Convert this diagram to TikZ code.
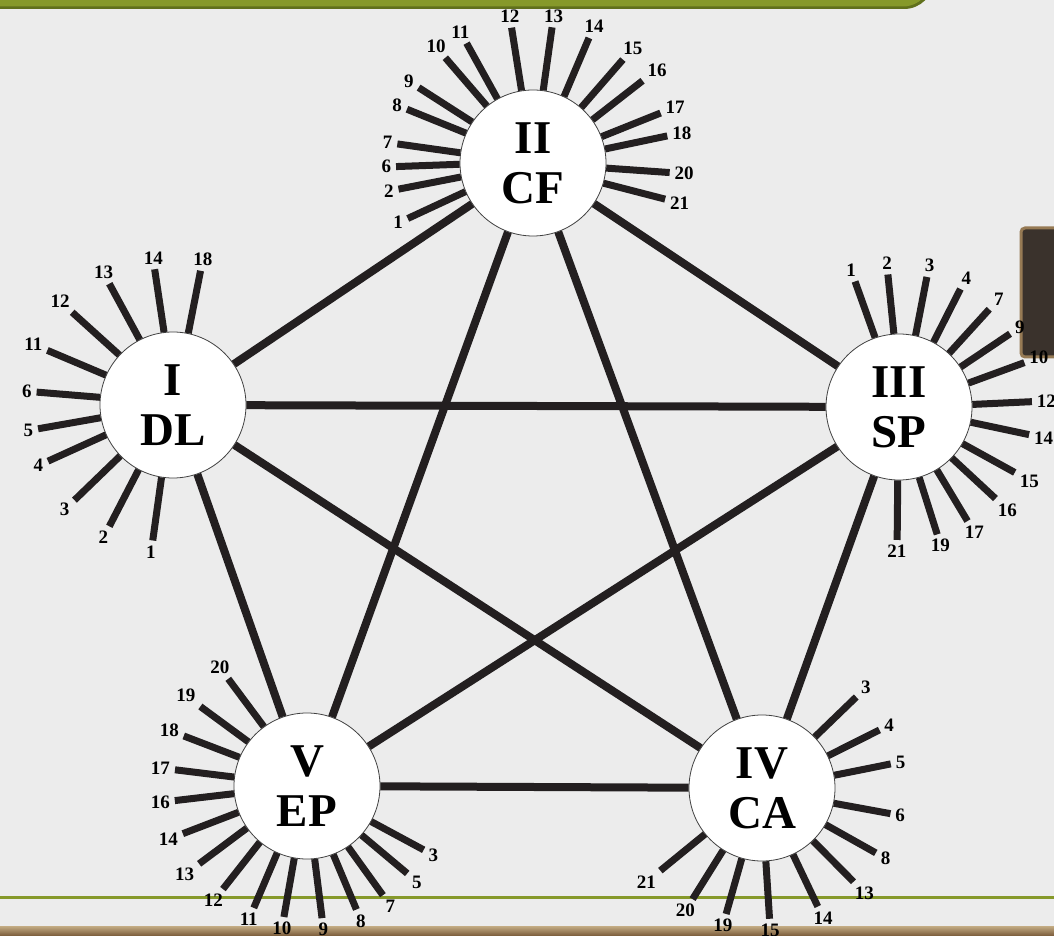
\documentclass[tikz,border=0pt]{standalone}
\usepackage{fontspec}
\setmainfont{Liberation Serif}
\usepackage{xcolor}
\usepackage{tikz}

\definecolor{paper}{RGB}{236,236,236}
\definecolor{ink}{RGB}{35,31,32}
\definecolor{olive}{RGB}{134,153,42}
\definecolor{olivedark}{RGB}{96,112,28}
\definecolor{woodtop}{RGB}{196,172,132}
\definecolor{woodbot}{RGB}{128,98,64}
\definecolor{tabfill}{RGB}{58,50,44}
\definecolor{tabedge}{RGB}{150,122,84}

\begin{document}
\begin{tikzpicture}[x=1pt,y=1pt,
  hub/.style={circle,draw=black!75,line width=0.8pt,fill=white,minimum size=146pt,
              inner sep=0pt,align=center,font=\fontsize{47}{50}\selectfont\bfseries},
  ln/.style={draw=ink,line width=8pt},
  ray/.style={draw=ink,line width=7pt},
  num/.style={inner sep=1.5pt,font=\fontsize{19}{20}\selectfont\bfseries}
]
% page, bars and tab
\useasboundingbox (0,0) rectangle (1054,935);
\fill[paper] (0,0) rectangle (1054,935);
\fill[olivedark,rounded corners=30pt] (-40,926) rectangle (934,990);
\fill[olive,rounded corners=28pt] (-40,928.5) rectangle (931,990);
\fill[olive] (0,36) rectangle (1054,39);
\shade[top color=woodtop,bottom color=woodbot] (0,0) rectangle (1054,9);
\filldraw[fill=tabfill,draw=tabedge,line width=3pt,rounded corners=4pt] (1021,578) rectangle (1070,707);

\node[hub] (cf) at (533,772) {II\\CF};
\node[hub] (dl) at (173,530) {I\\DL};
\node[hub] (sp) at (899,528) {III\\SP};
\node[hub] (ca) at (762,147) {IV\\CA};
\node[hub] (ep) at (307,149) {V\\EP};

\draw[ln](dl)--(cf);\draw[ln](dl)--(sp);\draw[ln](dl)--(ca);\draw[ln](dl)--(ep);
\draw[ln](cf)--(sp);\draw[ln](cf)--(ca);\draw[ln](cf)--(ep);
\draw[ln](sp)--(ca);\draw[ln](sp)--(ep);\draw[ln](ca)--(ep);

% rays with their numbers
\foreach \a/\t [evaluate=\a as \b using \a+180] in {203.9/1,191/2,181.5/6,172/7,156.9/8,
    146.6/9,129.8/10,119/11,99/12,82/13,65.9/14,49/15,36.9/16,21.4/17,11.4/18,356/20,344.7/21}
  \draw[ray] (cf.\a) -- ([shift={(\a:137pt)}]cf.center) node[num,anchor=\b] {\t};
\foreach \a/\t [evaluate=\a as \b using \a+180] in {97.7/14,78.4/18,117.7/13,137.4/12,
    156.5/11,174.6/6,190/5,204.2/4,224/3,242.3/2,261.5/1}
  \draw[ray] (dl.\a) -- ([shift={(\a:137pt)}]dl.center) node[num,anchor=\b] {\t};
\foreach \a/\t [evaluate=\a as \b using \a+180] in {109.3/1,94.8/2,77.9/3,62.5/4,47.3/7,
    33.4/9,19.5/10,2.3/12,348/14,330.5/15,316.5/16,301/17,286.7/19,269.2/21}
  \draw[ray] (sp.\a) -- ([shift={(\a:133pt)}]sp.center) node[num,anchor=\b] {\t};
\foreach \a/\t [evaluate=\a as \b using \a+180] in {44/3,26.3/4,10.6/5,348.7/6,330.3/8,
    314.3/13,295.2/14,273.3/15,254.1/19,238/20,219.1/21}
  \draw[ray] (ca.\a) -- ([shift={(\a:131pt)}]ca.center) node[num,anchor=\b] {\t};
\foreach \a/\t [evaluate=\a as \b using \a+180] in {126.3/20,143.3/19,157.9/18,173/17,
    186.3/16,201/14,215.8/13,230.8/12,246.4/11,260/10,276.5/9,291.8/8,304.8/7,318.9/5,331.3/3}
  \draw[ray] (ep.\a) -- ([shift={(\a:133pt)}]ep.center) node[num,anchor=\b] {\t};
\end{tikzpicture}
\end{document}
